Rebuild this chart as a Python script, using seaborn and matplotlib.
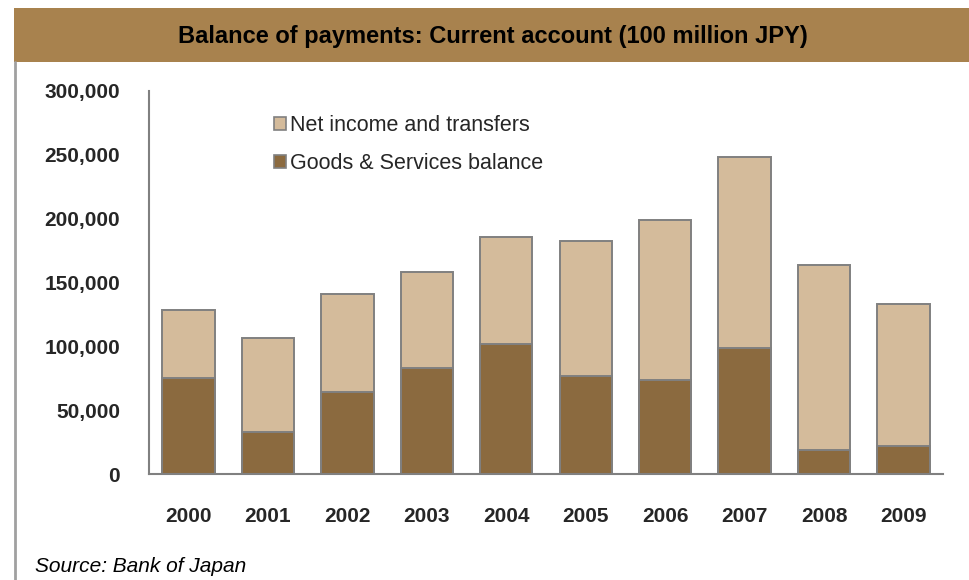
import numpy as np
import pandas as pd
import matplotlib
matplotlib.use("Agg")
import matplotlib.pyplot as plt
import matplotlib.patches as mpatches
from matplotlib.lines import Line2D
from matplotlib.ticker import FuncFormatter, FixedLocator
import seaborn as sns

# ── Data (100 million JPY) ────────────────────────────────────────────────────
YEARS      = ["2000", "2001", "2002", "2003", "2004", "2005", "2006", "2007", "2008", "2009"]
GOODS      = [74900, 33100, 64200, 82700, 101500, 76700, 73600, 98400, 18800, 21900]
NET_INCOME = [53400, 73300, 76400, 75100, 84200, 105600, 124900, 149900, 145000, 110900]
Y_TICKS    = [0, 50000, 100000, 150000, 200000, 250000, 300000]

TITLE  = "Balance of payments: Current account (100 million JPY)"
SOURCE = "Source: Bank of Japan"

C_GOODS = "#8B6A3F"
C_NET   = "#D4BB9B"
C_EDGE  = "#808080"
C_BAND  = "#A8824E"

W, H = 970, 580


def main():
    sns.set_style("white")
    plt.rcParams["font.family"] = ["Liberation Sans", "DejaVu Sans"]

    df = pd.DataFrame({"year": YEARS, "goods": GOODS, "net": NET_INCOME})
    df["total"] = df["goods"] + df["net"]

    fig = plt.figure(figsize=(W / 100, H / 100), dpi=100)
    ax = fig.add_axes([148.7 / W, 1 - 474 / H, 794.6 / W, 383.3 / H])

    # ── Bars: total behind, goods in front ───────────────────────────────────
    sns.barplot(data=df, x="year", y="total", color=C_NET, width=0.66,
                edgecolor=C_EDGE, linewidth=1.4, saturation=1, ax=ax)
    sns.barplot(data=df, x="year", y="goods", color=C_GOODS, width=0.66,
                edgecolor=C_EDGE, linewidth=1.4, saturation=1, ax=ax)

    ax.set_xlim(-0.5, len(YEARS) - 0.5)
    ax.set_ylim(0, 300000)
    ax.set_xlabel("")
    ax.set_ylabel("")

    # ── Axes styling ─────────────────────────────────────────────────────────
    for s in ["top", "right"]:
        ax.spines[s].set_visible(False)
    for s in ["left", "bottom"]:
        ax.spines[s].set_color(C_EDGE)
        ax.spines[s].set_linewidth(1.5)

    ax.yaxis.set_major_locator(FixedLocator(Y_TICKS))
    ax.yaxis.set_major_formatter(FuncFormatter(lambda v, p: f"{int(v):,}"))
    ax.tick_params(axis="y", which="major", direction="out", length=4.5,
                   width=1.2, color=C_EDGE, pad=16, labelsize=15)
    for lab in ax.get_yticklabels():
        lab.set_fontweight("bold")

    ax.set_xticks(range(len(YEARS)))
    ax.set_xticklabels(YEARS, fontsize=15, fontweight="bold")
    ax.set_xticks(np.arange(-0.5, len(YEARS)), minor=True)
    ax.tick_params(axis="x", which="major", length=0, pad=24)
    ax.tick_params(axis="x", which="minor", direction="out", length=6,
                   width=1.2, color=C_EDGE)

    # ── Legend ───────────────────────────────────────────────────────────────
    handles = [
        mpatches.Patch(facecolor=C_NET, edgecolor=C_EDGE, linewidth=1.2,
                       label="Net income and transfers"),
        mpatches.Patch(facecolor=C_GOODS, edgecolor=C_EDGE, linewidth=1.2,
                       label="Goods & Services balance"),
    ]
    ax.legend(handles=handles, loc="upper left", bbox_to_anchor=(0.147, 0.96),
              frameon=False, fontsize=15.5, handlelength=0.55, handleheight=0.55,
              handletextpad=0.2, labelspacing=0.8, borderaxespad=0)

    # ── Header band, frame line, source ──────────────────────────────────────
    fig.patches.append(mpatches.Rectangle((14 / W, 1 - 62 / H), 1 - 14 / W, 54 / H,
                                          transform=fig.transFigure,
                                          facecolor=C_BAND, edgecolor="none"))
    fig.lines.append(Line2D([15 / W, 15 / W], [0, 1 - 62 / H],
                            transform=fig.transFigure, color="#A0A0A0", lw=2))
    fig.text(493 / W, 1 - 36 / H, TITLE, ha="center", va="center",
             fontsize=17, fontweight="bold", color="black")
    fig.text(35 / W, 1 - 567 / H, SOURCE, ha="left", va="center",
             fontsize=15, fontstyle="italic", color="black")

    fig.savefig("out.png", dpi=100)


if __name__ == "__main__":
    main()
